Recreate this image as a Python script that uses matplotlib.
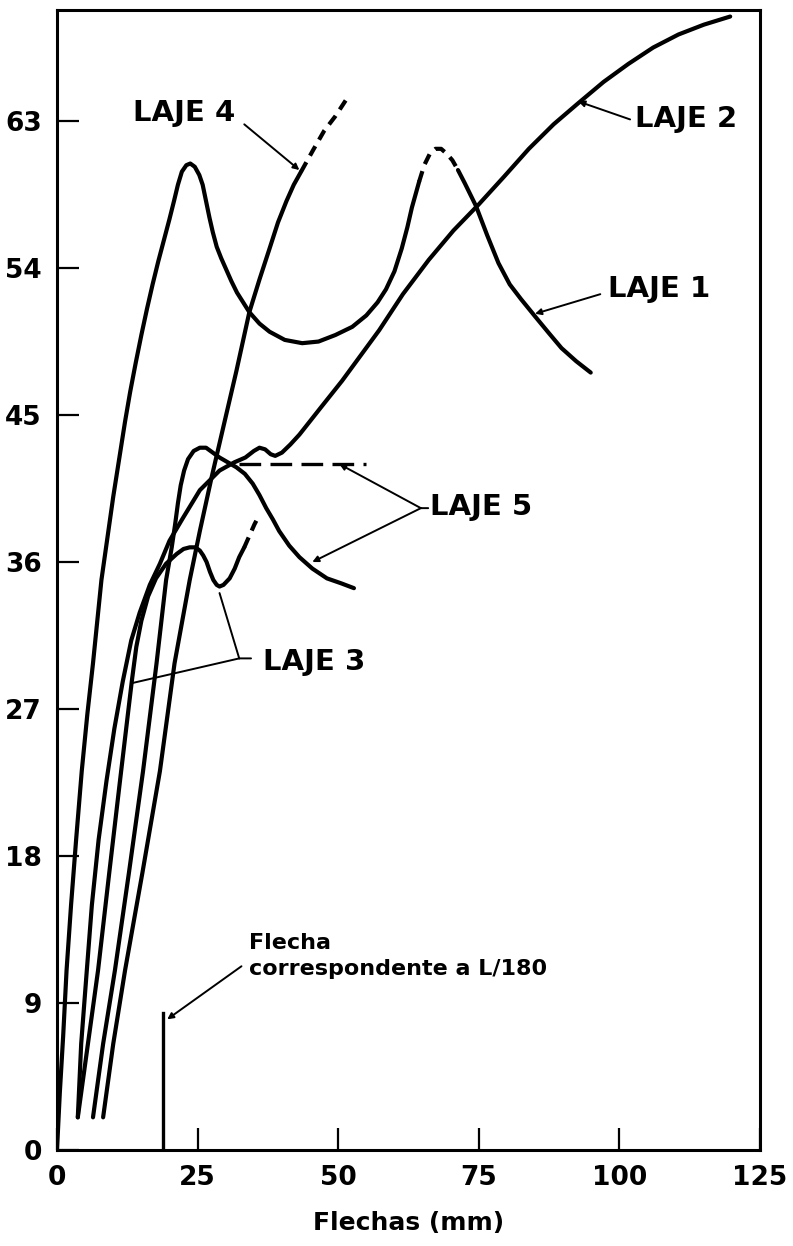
import numpy as np
import matplotlib.pyplot as plt

plt.rcParams['font.family'] = ['DejaVu Sans']
plt.rcParams['font.weight'] = 'bold'

# LAJE 1 (solid up to the first dashed part, dashed cap, solid tail)
laje1_x = [0, 0.5, 1.1, 1.7, 2.5, 3.4, 4.4, 5.4, 6.4, 7.9, 10.0, 12.1, 13.0, 14.0, 15.0,
           16.0, 17.0, 18.0, 19.0, 20.0, 20.8, 21.5, 22.2, 23.0, 23.7, 24.5, 25.3, 25.9,
           26.5, 27.1, 27.7, 28.4, 29.2, 30.1, 31.0, 32.0, 33.1, 34.2, 36.0, 37.8, 40.5,
           43.6, 46.5, 49.5, 52.5, 55.0, 57.0, 58.5, 60.0, 61.3, 62.3, 63.1, 64.4]
laje1_y = [0, 3.5, 7.0, 11.0, 15.0, 19.0, 23.2, 26.7, 29.8, 34.9, 40.0, 44.6, 46.4, 48.2,
           49.9, 51.5, 53.0, 54.4, 55.7, 57.0, 58.1, 59.1, 59.9, 60.3, 60.4, 60.2, 59.7,
           59.1, 58.1, 57.1, 56.2, 55.3, 54.6, 53.9, 53.2, 52.5, 51.9, 51.3, 50.6, 50.1,
           49.6, 49.4, 49.5, 49.9, 50.4, 51.1, 51.9, 52.7, 53.8, 55.2, 56.5, 57.7, 59.3]
laje1_dash_x = [64.4, 65.3, 66.3, 67.3, 68.3, 69.3, 70.3, 71.3]
laje1_dash_y = [59.3, 60.3, 61.0, 61.3, 61.3, 61.0, 60.6, 60.0]
laje1_tail_x = [71.3, 72.5, 74.5, 76.5, 78.5, 80.5, 82.5, 85.1, 87.5, 89.7, 92.3, 94.9]
laje1_tail_y = [60.0, 59.2, 57.8, 56.0, 54.3, 53.0, 52.1, 51.0, 50.0, 49.1, 48.3, 47.6]

# LAJE 2
laje2_x = [3.7, 4.3, 5.3, 6.2, 7.4, 8.8, 10.2, 11.7, 13.2, 14.7, 16.5, 18.3, 20.0, 22.4,
           25.4, 28.9, 31.5, 33.5, 35.0, 36.0, 37.0, 38.0, 38.8, 40.0, 41.5, 43.1, 47.0,
           50.7, 57.3, 61.5, 66.1, 70.5, 75.0, 79.5, 83.9, 88.3, 92.7, 97.2, 101.6, 106.0,
           110.5, 115.0, 119.7]
laje2_y = [2.0, 6.5, 11.0, 15.0, 19.0, 22.6, 25.8, 28.7, 31.2, 32.9, 34.6, 35.9, 37.3, 38.7,
           40.4, 41.6, 42.1, 42.4, 42.8, 43.0, 42.9, 42.6, 42.5, 42.7, 43.2, 43.8, 45.5,
           47.1, 50.2, 52.4, 54.5, 56.3, 57.9, 59.6, 61.3, 62.8, 64.1, 65.4, 66.5, 67.5,
           68.3, 68.9, 69.4]

# LAJE 3
laje3_x = [3.7, 5.5, 7.3, 9.3, 11.2, 12.3, 13.3, 14.1, 15.0, 16.2, 17.6, 19.4, 21.3, 22.5,
           23.6, 24.6, 25.4, 26.0, 26.6, 27.2, 27.8, 28.4, 28.9, 29.6, 30.7, 31.6, 32.4, 33.3]
laje3_y = [2.0, 6.5, 11.0, 17.0, 22.6, 25.8, 28.7, 30.8, 32.4, 33.9, 35.0, 35.9, 36.5, 36.8,
           36.9, 36.9, 36.7, 36.4, 36.0, 35.4, 34.9, 34.6, 34.5, 34.6, 35.0, 35.6, 36.3, 36.9]
laje3_dash_x = [33.3, 34.2, 35.1, 36.0]
laje3_dash_y = [36.9, 37.6, 38.3, 38.9]

# LAJE 4
laje4_x = [8.2, 10.0, 12.1, 15.2, 18.3, 20.9, 23.6, 25.4, 27.5, 29.8, 31.9, 34.2, 36.0,
           37.8, 39.3, 40.8, 42.1, 43.4]
laje4_y = [2.0, 6.5, 11.0, 17.0, 23.2, 29.8, 34.9, 37.9, 41.2, 44.6, 47.7, 51.3, 53.3,
           55.2, 56.8, 58.1, 59.1, 59.9]
laje4_dash_x = [43.4, 45.5, 47.5, 49.5, 51.4]
laje4_dash_y = [59.9, 61.2, 62.4, 63.3, 64.3]

# LAJE 5
laje5_x = [6.4, 8.2, 10.3, 12.8, 15.3, 16.5, 17.7, 18.6, 19.4, 20.4, 21.0, 21.5, 22.0, 22.6,
           23.3, 24.3, 25.4, 26.5, 27.7, 28.9, 30.4, 31.9, 33.4, 34.8, 36.0, 37.2, 38.4,
           39.5, 41.3, 43.1, 45.4, 48.0, 50.5, 52.8]
laje5_y = [2.0, 6.5, 11.0, 17.0, 23.2, 26.5, 29.8, 32.5, 34.9, 36.9, 38.3, 39.6, 40.7, 41.6,
           42.3, 42.8, 43.0, 43.0, 42.7, 42.4, 42.1, 41.8, 41.4, 40.8, 40.1, 39.3, 38.6,
           37.9, 37.0, 36.3, 35.6, 35.0, 34.7, 34.4]
laje5_dash_x = [32.4, 55.0]
laje5_dash_y = [42.0, 42.0]

# deflection limit L/180
flecha_lim_x = [18.8, 18.8]
flecha_lim_y = [0, 8.4]

x_ticks = [0, 25, 50, 75, 100, 125]
y_ticks = [0, 9, 18, 27, 36, 45, 54, 63]

fig = plt.figure(figsize=(7.93, 12.46), dpi=100)
ax = fig.add_axes([57 / 793, 96 / 1246, 703 / 793, 1140 / 1246])

lw = 3.0
short_dash = (2.6, 1.8)
ax.plot(laje1_x, laje1_y, color='black', lw=lw, solid_capstyle='round')
ax.plot(laje1_dash_x, laje1_dash_y, color='black', lw=lw, dashes=short_dash)
ax.plot(laje1_tail_x, laje1_tail_y, color='black', lw=lw, solid_capstyle='round')
ax.plot(laje2_x, laje2_y, color='black', lw=lw, solid_capstyle='round')
ax.plot(laje3_x, laje3_y, color='black', lw=lw, solid_capstyle='round')
ax.plot(laje3_dash_x, laje3_dash_y, color='black', lw=lw, dashes=short_dash)
ax.plot(laje4_x, laje4_y, color='black', lw=lw, solid_capstyle='round')
ax.plot(laje4_dash_x, laje4_dash_y, color='black', lw=lw, dashes=short_dash)
ax.plot(laje5_x, laje5_y, color='black', lw=lw, solid_capstyle='round')
ax.plot(laje5_dash_x, laje5_dash_y, color='black', lw=lw * 0.8, dashes=(6.5, 2.8))
ax.plot(flecha_lim_x, flecha_lim_y, color='black', lw=2.4)

# leaders
arrow = dict(arrowstyle='-|>', lw=1.4, color='black', mutation_scale=9,
             shrinkA=0, shrinkB=0)
plain = dict(arrowstyle='-', lw=1.4, color='black', shrinkA=0, shrinkB=0)
txt = dict(fontsize=21, fontweight='bold', va='center', ha='left')

ax.text(13.5, 63.5, 'LAJE 4', **txt)
ax.annotate('', xy=(43.1, 60.0), xytext=(33.3, 62.8), arrowprops=arrow)

ax.text(102.8, 63.1, 'LAJE 2', **txt)
ax.annotate('', xy=(92.7, 64.2), xytext=(101.9, 63.1), arrowprops=arrow)

ax.text(98.0, 52.7, 'LAJE 1', **txt)
ax.annotate('', xy=(85.0, 51.2), xytext=(96.6, 52.4), arrowprops=arrow)

ax.text(66.3, 39.4, 'LAJE 5', **txt)
ax.annotate('', xy=(66.0, 39.3), xytext=(64.7, 39.3), arrowprops=plain)
ax.annotate('', xy=(50.2, 42.0), xytext=(64.7, 39.3), arrowprops=arrow)
ax.annotate('', xy=(45.4, 36.0), xytext=(64.7, 39.3), arrowprops=arrow)

ax.text(36.6, 29.9, 'LAJE 3', **txt)
ax.annotate('', xy=(34.5, 30.1), xytext=(32.4, 30.1), arrowprops=plain)
ax.annotate('', xy=(28.9, 34.1), xytext=(32.4, 30.1), arrowprops=plain)
ax.annotate('', xy=(13.5, 28.6), xytext=(32.4, 30.1), arrowprops=plain)

ax.text(34.2, 12.7, 'Flecha', fontsize=16, fontweight='bold', va='center', ha='left')
ax.text(34.2, 11.1, 'correspondente a L/180', fontsize=16, fontweight='bold',
        va='center', ha='left')
ax.annotate('', xy=(19.6, 8.0), xytext=(32.8, 11.25), arrowprops=arrow)

ax.set_xlim(0, 125)
ax.set_ylim(0, 69.8)
ax.set_xticks(x_ticks)
ax.set_yticks(y_ticks)
ax.tick_params(direction='in', length=16, width=1.6, labelsize=19, pad=11)
for lab in ax.get_xticklabels() + ax.get_yticklabels():
    lab.set_fontweight('bold')
for s in ax.spines.values():
    s.set_linewidth(2.2)

ax.set_xlabel('Flechas (mm)', fontsize=18, fontweight='bold', labelpad=14)

fig.savefig('out.png', dpi=100)
